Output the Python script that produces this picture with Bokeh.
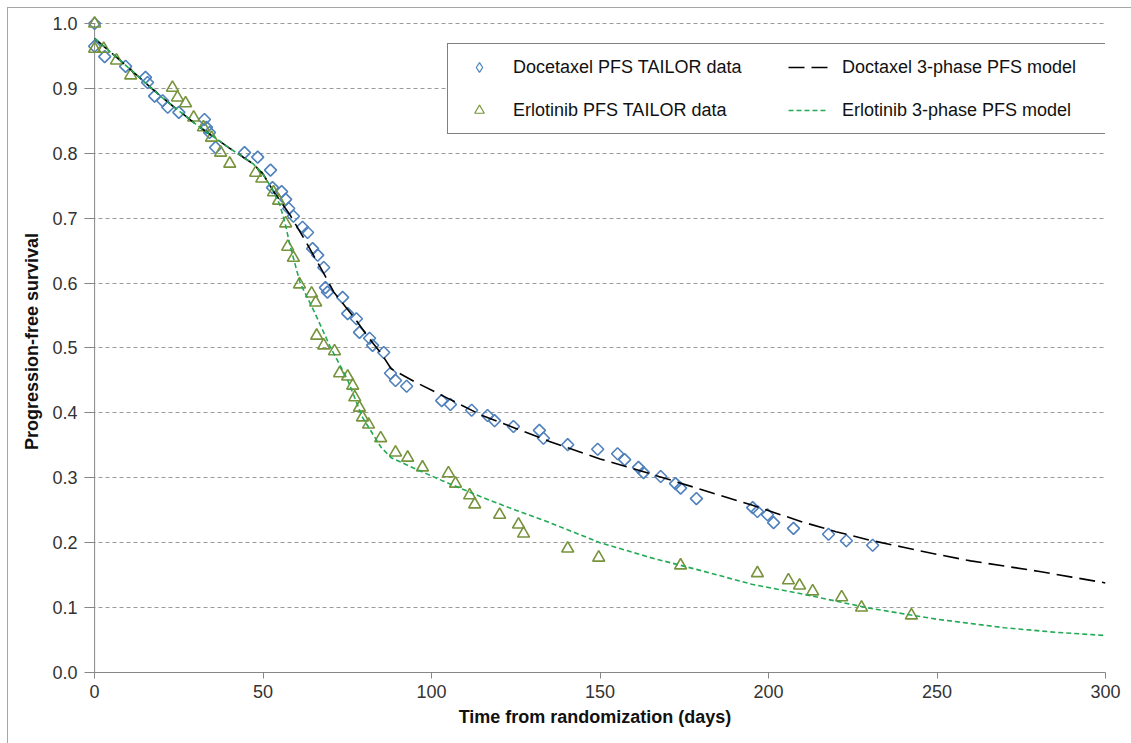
import numpy as np
from bokeh.plotting import figure
from bokeh.models import (Range1d, FixedTicker, PrintfTickFormatter, Legend,
                          LegendItem)
from bokeh.embed import file_html
from bokeh.resources import INLINE

# ---- data ----
doc_days = [0, 0, 3, 9.2, 15.1, 15.7, 17.8, 20.2, 21.7, 25,
            32.6, 33.2, 34.1, 35.9, 44.5, 48.4, 52.2, 52.8, 55.5, 56.7,
            57.6, 59, 61.7, 63.2, 64.7, 66.2, 68, 68.5, 69.1, 73.6,
            75.1, 77.7, 78.6, 81.6, 82.5, 85.8, 87.8, 89.3, 92.6, 103,
            105.6, 111.9, 116.6, 118.7, 124.3, 132, 133.2, 140.4, 149.3, 155.2,
            157.3, 161.4, 162.9, 168, 172.4, 173.9, 178.6, 195.3, 196.7, 199.7,
            201.5, 207.4, 217.8, 223.1, 230.9]
doc_surv = [1.0, .965, .949, .934, .917, .909, .888, .881, .871, .863,
            .852, .840, .832, .809, .801, .794, .774, .747, .741, .729,
            .715, .703, .686, .678, .653, .643, .624, .593, .586, .578,
            .553, .545, .524, .515, .504, .493, .461, .450, .441, .419,
            .413, .404, .396, .388, .379, .373, .361, .351, .344, .337,
            .328, .316, .308, .302, .291, .284, .268, .254, .248, .243,
            .231, .222, .213, .203, .196]

erl_days = [0, 0, 2.7, 6.5, 10.7, 23.1, 24.6, 27, 29.4, 32.3,
            34.7, 37.4, 40.1, 47.8, 49.6, 53.1, 54.6, 56.7, 57.3, 59,
            60.8, 64.4, 65.6, 65.9, 68, 71.2, 72.7, 75.1, 76.6, 77.2,
            78.6, 79.5, 81.3, 84.9, 89.3, 92.9, 97.3, 105, 107.1, 111.3,
            112.8, 120.2, 125.8, 127.3, 140.4, 149.6, 173.9, 196.7, 205.9, 209.2,
            213.1, 221.7, 227.6, 242.4]
erl_surv = [1.0, .961, .961, .943, .920, .901, .886, .877, .855, .840,
            .824, .801, .784, .770, .761, .740, .727, .692, .656, .639,
            .598, .584, .570, .519, .504, .495, .461, .456, .442, .424,
            .408, .393, .382, .361, .339, .331, .316, .307, .291, .273,
            .259, .243, .228, .214, .191, .177, .165, .153, .142, .134,
            .125, .116, .100, .088]

doc_model_days = [0, 10, 20, 30, 40, 47, 50, 53, 58, 62,
                  68, 71, 77, 81, 85, 88, 95, 105, 115, 125,
                  135, 150, 165, 180, 195, 210, 220, 230, 240, 250,
                  260, 270, 280, 290, 300]
doc_model = [.977, .932, .886, .845, .808, .784, .768, .742, .705, .67,
             .615, .586, .547, .518, .492, .468, .448, .422, .396, .376,
             .356, .329, .306, .282, .258, .232, .217, .204, .193, .182,
             .172, .164, .156, .147, .138]

erl_model_days = [0, 10, 20, 30, 40, 47, 50, 53, 55, 56.5,
                  58, 61, 65, 70, 75, 79.5, 85, 88, 93, 103,
                  115, 125, 135, 150, 165, 180, 195, 210, 230, 250,
                  270, 285, 300]
erl_model = [.977, .932, .886, .845, .808, .784, .768, .742, .72, .693,
             .658, .60, .558, .501, .452, .393, .347, .331, .319, .296,
             .270, .250, .231, .200, .177, .157, .136, .121, .099, .082,
             .069, .062, .057]

x_ticks = [0, 50, 100, 150, 200, 250, 300]
y_ticks = [0.0, 0.1, 0.2, 0.3, 0.4, 0.5, 0.6, 0.7, 0.8, 0.9, 1.0]

x_label = "Time from randomization (days)"
y_label = "Progression-free survival"

FONT = "Liberation Sans"
BLUE = "#4F81BD"
OLIVE = "#77933C"
GREEN = "#22AA55"
AXIS_GRAY = "#868686"

p = figure(width=1131, height=743, output_backend="svg", toolbar_location=None,
           x_range=Range1d(-3, 300), y_range=Range1d(0, 1.02),
           min_border_left=84, min_border_right=26, min_border_top=10,
           min_border_bottom=71)
p.outline_line_color = None
p.background_fill_color = "white"
p.border_fill_color = None
# outer chart border (top and left edges visible in the reference)
p.styles = {
    "background": ("linear-gradient(#a6a6a6, #a6a6a6) 7px 7px / 100% 1px no-repeat, "
                   "linear-gradient(#a6a6a6, #a6a6a6) 7px 7px / 1px 100% no-repeat, "
                   "white"),
}

# axes
for ax in (p.xaxis[0], p.yaxis[0]):
    ax.major_tick_line_color = AXIS_GRAY
    ax.minor_tick_line_color = None
    ax.major_label_text_font = FONT
    ax.major_label_text_font_size = "18px"
    ax.major_label_text_color = "#333333"
    ax.axis_label_text_font = FONT
    ax.axis_label_text_font_size = "18px"
    ax.axis_label_text_font_style = "bold"
    ax.axis_label_text_color = "#111111"

p.xaxis.axis_line_color = AXIS_GRAY
p.xaxis.major_tick_out = 6
p.xaxis.major_tick_in = 0
p.xaxis.ticker = FixedTicker(ticks=x_ticks)
p.xaxis.bounds = (0, 300)
p.xaxis.axis_label = x_label
p.xaxis.major_label_standoff = 6
p.xaxis.axis_label_standoff = 6

p.yaxis.axis_line_color = None
p.yaxis.major_tick_out = 0
p.yaxis.major_tick_in = 10
p.yaxis.ticker = FixedTicker(ticks=y_ticks)
p.yaxis.formatter = PrintfTickFormatter(format="%.1f")
p.yaxis.axis_label = y_label
p.yaxis.major_label_standoff = 7
p.yaxis.axis_label_standoff = 7

p.xgrid.grid_line_color = None
p.ygrid.ticker = FixedTicker(ticks=y_ticks[1:])
p.ygrid.grid_line_color = "#9a9a9a"
p.ygrid.grid_line_dash = "4 3"
p.ygrid.grid_line_width = 1

# vertical axis line at day 0
p.segment(x0=[x_ticks[0]], y0=[y_ticks[0]], x1=[x_ticks[0]], y1=[y_ticks[-1]],
          line_color=AXIS_GRAY, line_width=1)

# data markers
r_doc = p.scatter(doc_days, doc_surv, marker="square", angle=np.pi / 4, size=8.5,
                  line_color=BLUE, line_width=1.6, fill_color=None)
r_erl = p.scatter(erl_days, erl_surv, marker="triangle", size=12,
                  line_color=OLIVE, line_width=1.6, fill_color=None)
# model lines
r_docm = p.line(doc_model_days, doc_model, line_color="black", line_width=1.6,
                line_dash="16 7")
r_erlm = p.line(erl_model_days, erl_model, line_color=GREEN, line_width=1.6,
                line_dash="5 3")

# legend-only glyphs (not visible in the plot area: NaN position)
nan_pt = np.array([np.nan])
leg_doc = p.scatter(x=nan_pt, y=nan_pt, marker="diamond", size=11,
                    line_color=BLUE, line_width=1.2, fill_color=None)
leg_erl = p.scatter(x=nan_pt, y=nan_pt, marker="triangle", size=9,
                    line_color=OLIVE, line_width=1.2, fill_color=None)

legend = Legend(items=[
    LegendItem(label="Docetaxel PFS TAILOR data", renderers=[leg_doc]),
    LegendItem(label="Erlotinib PFS TAILOR data", renderers=[leg_erl]),
    LegendItem(label="Doctaxel 3-phase PFS model", renderers=[r_docm]),
    LegendItem(label="Erlotinib 3-phase PFS model", renderers=[r_erlm]),
], ncols=2, location=(363, 538))
legend.label_text_font = FONT
legend.label_text_font_size = "18px"
legend.label_text_color = "#111111"
legend.glyph_width = 40
legend.glyph_height = 24
legend.label_standoff = 14
legend.label_width = 256
legend.spacing = 19
legend.padding = 11
legend.margin = 0
legend.border_line_color = "black"
legend.border_line_width = 1
legend.background_fill_color = "white"
legend.background_fill_alpha = 1
p.add_layout(legend, "center")

open("out.html", "w").write(file_html(p, INLINE))
